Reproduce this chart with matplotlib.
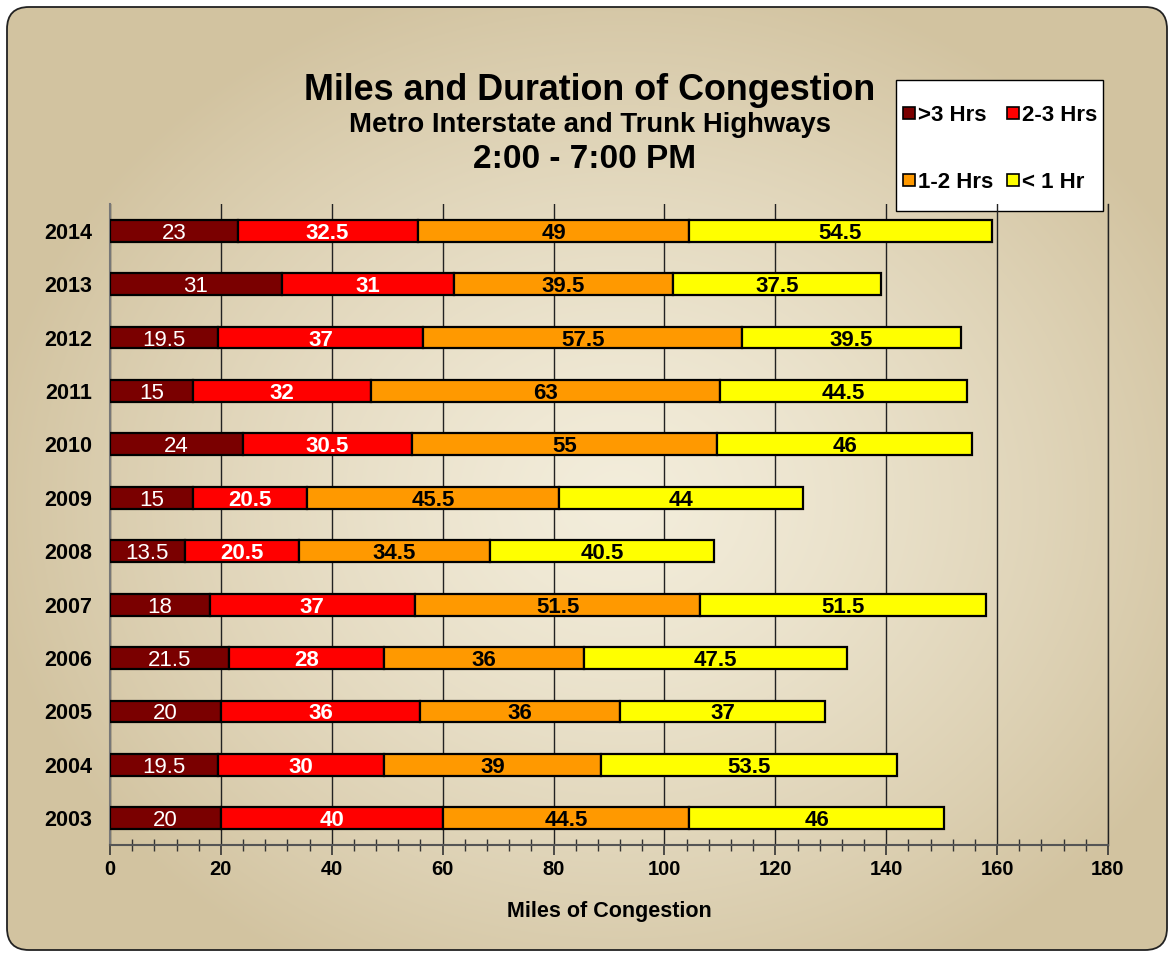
import numpy as np
import matplotlib
matplotlib.use("Agg")
import matplotlib.pyplot as plt
from matplotlib.patches import FancyBboxPatch, Rectangle
from matplotlib.ticker import MultipleLocator

plt.rcParams['font.family'] = ['Liberation Sans', 'DejaVu Sans']

years = ['2003', '2004', '2005', '2006', '2007', '2008', '2009', '2010', '2011', '2012', '2013', '2014']
over3 = [20, 19.5, 20, 21.5, 18, 13.5, 15, 24, 15, 19.5, 31, 23]
h2to3 = [40, 30, 36, 28, 37, 20.5, 20.5, 30.5, 32, 37, 31, 32.5]
h1to2 = [44.5, 39, 36, 36, 51.5, 34.5, 45.5, 55, 63, 57.5, 39.5, 49]
under1 = [46, 53.5, 37, 47.5, 51.5, 40.5, 44, 46, 44.5, 39.5, 37.5, 54.5]
series_names = ['>3 Hrs', '2-3 Hrs', '1-2 Hrs', '< 1 Hr']
series_colors = ['#7a0000', '#ff0000', '#ff9900', '#ffff00']
label_colors = ['white', 'white', 'black', 'black']
label_weights = ['normal', 'bold', 'bold', 'bold']

W, H = 1174, 956
fig = plt.figure(figsize=(W / 100, H / 100), dpi=100)
fig.patch.set_facecolor('white')

# background gradient clipped to rounded rectangle
bg = fig.add_axes([0, 0, 1, 1], zorder=-10)
bg.set_xlim(0, W)
bg.set_ylim(H, 0)
bg.axis('off')
yy, xx = np.mgrid[0:H, 0:W]
cx, cy = 620, 500
d = np.sqrt(((xx - cx) / 640.0) ** 2 + ((yy - cy) / 540.0) ** 2)
d = np.clip(d, 0, 1) ** 1.3
c_in = np.array([243, 237, 219]) / 255.0
c_out = np.array([210, 195, 160]) / 255.0
img = c_in[None, None, :] * (1 - d[..., None]) + c_out[None, None, :] * d[..., None]
im = bg.imshow(img, extent=[0, W, H, 0], aspect='auto', zorder=0)
frame = FancyBboxPatch((7, 7), W - 14, H - 13, boxstyle='round,pad=0,rounding_size=22',
                       facecolor='none', edgecolor='#222222', linewidth=1.3, zorder=2)
bg.add_patch(frame)
im.set_clip_path(frame)

# legend drawn manually in pixel coords on the background axes
bg.add_patch(Rectangle((896, 80), 207, 131, facecolor='white', edgecolor='black',
                       linewidth=1.0, zorder=5))
leg_pos = [(903, 113), (1007, 113), (903, 180), (1007, 180)]
for (lx, ly), name, col in zip(leg_pos, series_names, series_colors):
    bg.add_patch(Rectangle((lx, ly - 6), 12, 12, facecolor=col, edgecolor='black',
                           linewidth=1.2, zorder=6))
    bg.text(lx + 15, ly, name, ha='left', va='center_baseline', fontsize=16,
            fontweight='bold', zorder=6)

# main axes
x0, x1 = 110, 1108
ytop, ybot = 204, 845
ax = fig.add_axes([x0 / W, 1 - ybot / H, (x1 - x0) / W, (ybot - ytop) / H])
ax.patch.set_alpha(0)

y = np.arange(len(years))
left = np.zeros(len(years))
series = [over3, h2to3, h1to2, under1]
for vals, col, lc, lw, name in zip(series, series_colors, label_colors, label_weights, series_names):
    vals = np.array(vals, dtype=float)
    ax.barh(y, vals, left=left, height=0.41, color=col, edgecolor='black',
            linewidth=1.6, zorder=3, label=name)
    for yi, l, v in zip(y, left, vals):
        ax.text(l + v / 2, yi, f'{v:g}', ha='center', va='center_baseline', color=lc,
                fontsize=16, fontweight=lw, zorder=4)
    left += vals

ax.set_xlim(0, 180)
ax.set_ylim(-0.5, len(years) - 0.5)
ax.set_yticks(y)
ax.set_yticklabels(years, fontsize=15.5, fontweight='bold')
ax.tick_params(axis='y', length=0, pad=13)
ax.xaxis.set_major_locator(MultipleLocator(20))
ax.xaxis.set_minor_locator(MultipleLocator(4))
ax.tick_params(axis='x', which='major', length=7, width=1.2, color='#333333', direction='out',
               labelsize=14.5, pad=4)
ax.tick_params(axis='x', which='minor', length=9, width=1.0, color='#333333', direction='inout')
for lab in ax.get_xticklabels():
    lab.set_fontweight('bold')
ax.grid(axis='x', which='major', color='#222222', linewidth=1.0, zorder=1)
ax.set_axisbelow(True)
ax.spines['top'].set_visible(False)
ax.spines['right'].set_color('#222222')
ax.spines['right'].set_linewidth(1.0)
ax.spines['left'].set_color('#777777')
ax.spines['left'].set_linewidth(1.5)
ax.spines['bottom'].set_color('#555555')
ax.spines['bottom'].set_linewidth(1.5)
ax.set_xlabel('Miles of Congestion', fontsize=15.5, fontweight='bold', labelpad=16)

# titles
fig.text(590 / W, 1 - 90 / H, 'Miles and Duration of Congestion', ha='center', va='center',
         fontsize=25.8, fontweight='bold')
fig.text(590 / W, 1 - 125 / H, 'Metro Interstate and Trunk Highways', ha='center', va='center',
         fontsize=19.8, fontweight='bold')
fig.text(585 / W, 1 - 160 / H, '2:00 - 7:00 PM', ha='center', va='center',
         fontsize=24, fontweight='bold')

fig.savefig('out.png', dpi=100)
